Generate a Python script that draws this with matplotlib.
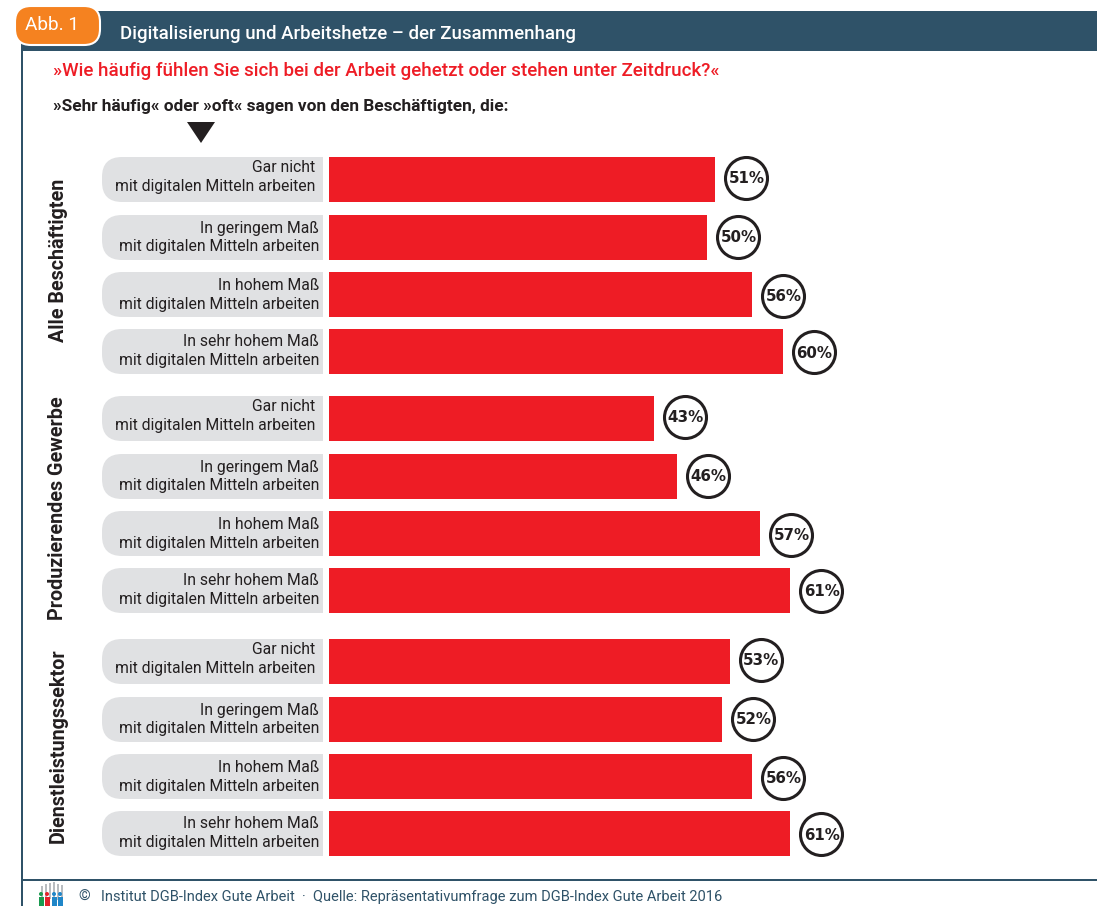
import matplotlib
matplotlib.use("Agg")
import matplotlib.pyplot as plt
from matplotlib.patches import Rectangle, PathPatch, FancyBboxPatch, Polygon, Circle
from matplotlib.path import Path
from matplotlib.transforms import ScaledTranslation

plt.rcParams['font.family'] = ['Roboto', 'DejaVu Sans']

title = "Digitalisierung und Arbeitshetze – der Zusammenhang"
badge = "Abb. 1"
question = "»Wie häufig fühlen Sie sich bei der Arbeit gehetzt oder stehen unter Zeitdruck?«"
subtitle = "»Sehr häufig« oder »oft« sagen von den Beschäftigten, die:"
source = "Institut DGB-Index Gute Arbeit  ·  Quelle: Repräsentativumfrage zum DGB-Index Gute Arbeit 2016"

groups = ["Alle Beschäftigten", "Produzierendes Gewerbe", "Dienstleistungssektor"]
levels = ["Gar nicht", "In geringem Maß", "In hohem Maß", "In sehr hohem Maß"]
label_tail = "mit digitalen Mitteln arbeiten"
values_alle = [51, 50, 56, 60]
values_prod = [43, 46, 57, 61]
values_dienst = [53, 52, 56, 61]
all_values = [values_alle, values_prod, values_dienst]

W, H, DPI = 1097, 906, 100
NAVY, RED, GREY, ORANGE, DARK = "#2f5268", "#ee1c25", "#e0e1e3", "#f58220", "#231f20"
px = 0.72  # font points per pixel

fig = plt.figure(figsize=(W / DPI, H / DPI), dpi=DPI, facecolor="white")
bg = fig.add_axes([0, 0, 1, 1])
bg.set_xlim(0, W); bg.set_ylim(H, 0); bg.axis("off")

# frame
bg.add_patch(Rectangle((21, 11), W - 21, 40, fc=NAVY, ec="none"))
bg.add_patch(Rectangle((21, 51), 2.2, H - 51, fc=NAVY, ec="none"))
bg.add_patch(Rectangle((21, 878.5), W - 21, 2, fc=NAVY, ec="none"))
bg.add_patch(FancyBboxPatch((31, 22), 53, 7, boxstyle="round,pad=16,rounding_size=16",
                            fc=ORANGE, ec="white", lw=1.5, zorder=3))
bg.text(25, 25, badge, color="white", fontsize=19 * px, va="center", ha="left", zorder=4)
bg.text(120, 34, title, color="white", fontsize=18.6 * px, va="center", ha="left", fontweight="medium")
bg.text(53, 71, question, color=RED, fontsize=18.8 * px, fontweight="medium", va="center", ha="left")
bg.text(53, 106, subtitle, color=DARK, fontsize=17.2 * px, fontweight="bold", va="center", ha="left")
bg.add_patch(Polygon([(187, 122), (215, 122), (201, 143)], fc=DARK, ec="none"))

# footer
bg.text(78, 897, "©", color=NAVY, fontsize=15 * px, va="center", ha="left")
bg.text(101, 897, source, color=NAVY, fontsize=14.6 * px, va="center", ha="left")
for x, top in zip([41, 45, 49, 53, 57, 61], [886, 884, 883, 882, 884, 885]):
    bg.add_patch(Rectangle((x, top), 1.6, 16, fc="#b8bcc0", ec="none"))
for x, c in zip([41, 47, 54, 60], ["#1a9a50", "#e3212b", "#1f86c8", "#1f86c8"]):
    bg.add_patch(Circle((x, 894), 2, fc=c, ec="none", zorder=3))
    bg.add_patch(Rectangle((x - 2.5, 897), 5, 9, fc=c, ec="none", zorder=3))

# chart axes: x in percent (7.56 px per %), y in image pixels
x0, PX_PER_PCT = 329, 7.56
ax = fig.add_axes([x0 / W, 0, (W - x0) / W, 1], facecolor="none")
ax.set_xlim(0, (W - x0) / PX_PER_PCT); ax.set_ylim(H, 0); ax.axis("off")
offset = ax.transData + ScaledTranslation(31 / DPI, 0, fig.dpi_scale_trans)

group_tops = [157, 396, 639]
row_offsets = [0, 58, 115, 172]
line1_dy = [10.5, 13.5, 13.5, 12.5]
line2_dy = [29.5, 31.5, 32.5, 31.5]
circle_dy = [-2, -1, 1, 0.5]
group_label_y = [260, 508, 746]
BAR_H = 45
L, R, RAD = 102, 323, 20

for g, gtop, gy, vals in zip(groups, group_tops, group_label_y, all_values):
    bg.text(58, gy, g, rotation=90, color=DARK, fontsize=19.8 * px, fontweight="bold", ha="center", va="center")
    for i, (lev, v) in enumerate(zip(levels, vals)):
        t = gtop + row_offsets[i]
        b = t + BAR_H
        verts = [(R, t), (L + RAD, t), (L, t), (L, t + RAD), (L, b - RAD), (L, b), (L + RAD, b), (R, b), (R, t)]
        codes = [Path.MOVETO, Path.LINETO, Path.CURVE3, Path.CURVE3, Path.LINETO, Path.CURVE3, Path.CURVE3,
                 Path.LINETO, Path.CLOSEPOLY]
        bg.add_patch(PathPatch(Path(verts, codes), fc=GREY, ec="none"))
        tx = 315 if i == 0 else 319
        bg.text(tx, t + line1_dy[i], lev, color=DARK, fontsize=15.8 * px, ha="right", va="center")
        bg.text(tx, t + line2_dy[i], label_tail, color=DARK, fontsize=15.8 * px, ha="right", va="center")
        ax.barh(t + BAR_H / 2, v, height=BAR_H, left=0, color=RED, edgecolor="none")
        cy = t + BAR_H / 2 + circle_dy[i]
        ax.plot([v], [cy], marker="o", ms=42 * px, mfc="white", mec=DARK, mew=2.2,
                transform=offset, clip_on=False, ls="none", zorder=3)
        ax.text(v + 0.1, cy + 1, f"{v}%", color=DARK, fontsize=15 * px, fontweight="bold",
                family=["DejaVu Sans"], ha="center", va="center", transform=offset, zorder=4)

fig.savefig("out.png", dpi=DPI, facecolor="white")
